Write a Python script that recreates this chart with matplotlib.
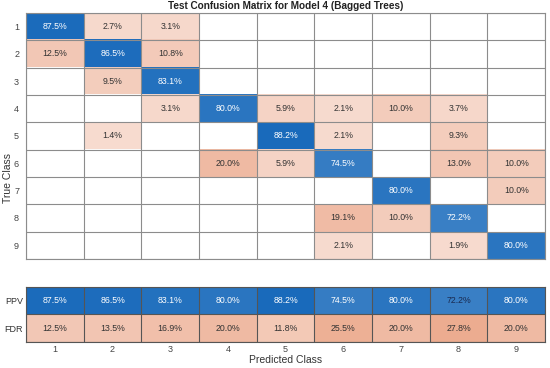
import numpy as np
import matplotlib
matplotlib.use("Agg")
import matplotlib.pyplot as plt

plt.rcParams['font.family'] = ['Liberation Sans', 'DejaVu Sans']

classes = ['1', '2', '3', '4', '5', '6', '7', '8', '9']
title = 'Test Confusion Matrix for Model 4 (Bagged Trees)'

# column-normalized percentages (rows = true class, cols = predicted class); 0 = empty
matrix = np.array([
    [87.5, 2.7, 3.1, 0, 0, 0, 0, 0, 0],
    [12.5, 86.5, 10.8, 0, 0, 0, 0, 0, 0],
    [0, 9.5, 83.1, 0, 0, 0, 0, 0, 0],
    [0, 0, 3.1, 80.0, 5.9, 2.1, 10.0, 3.7, 0],
    [0, 1.4, 0, 0, 88.2, 2.1, 0, 9.3, 0],
    [0, 0, 0, 20.0, 5.9, 74.5, 0, 13.0, 10.0],
    [0, 0, 0, 0, 0, 0, 80.0, 0, 10.0],
    [0, 0, 0, 0, 0, 19.1, 10.0, 72.2, 0],
    [0, 0, 0, 0, 0, 2.1, 0, 1.9, 80.0],
])
ppv = [87.5, 86.5, 83.1, 80.0, 88.2, 74.5, 80.0, 72.2, 80.0]
fdr = [12.5, 13.5, 16.9, 20.0, 11.8, 25.5, 20.0, 27.8, 20.0]

BLUE = np.array([0, 90, 180]) / 255.0
ORANGE = np.array([217, 83, 25]) / 255.0
WHITE = np.ones(3)


def blue_col(v):
    a = 0.894 - (87.5 - v) * 0.0079
    a = min(max(a, 0.3), 0.93)
    return WHITE * (1 - a) + BLUE * a


def orange_col(v):
    a = 0.19 + 0.0105 * v
    return WHITE * (1 - a) + ORANGE * a


n = len(classes)
rgb = np.ones((n, n, 3))
for i in range(n):
    for j in range(n):
        v = matrix[i, j]
        if v > 0:
            rgb[i, j] = blue_col(v) if i == j else orange_col(v)

fig = plt.figure(figsize=(5.5, 3.68), dpi=100)
ax = fig.add_axes([0.0473, 0.2962, 0.9437, 0.6685])
ax.imshow(rgb, aspect='auto', interpolation='nearest', extent=(-0.5, n - 0.5, n - 0.5, -0.5))
grid_c = '#8c8c8c'
for k in range(n + 1):
    ax.axhline(k - 0.5, color=grid_c, lw=0.8)
    ax.axvline(k - 0.5, color=grid_c, lw=0.8)
for i in range(n):
    for j in range(n):
        v = matrix[i, j]
        if v > 0:
            c = 'white' if i == j else '#333333'
            ax.text(j, i, f'{v:.1f}%', ha='center', va='center', fontsize=6.3, color=c)
ax.set_xlim(-0.5, n - 0.5)
ax.set_ylim(n - 0.5, -0.5)
ax.set_xticks([])
ax.set_yticks(range(n))
ax.set_yticklabels(classes, fontsize=6.5, color='#444444')
ax.tick_params(axis='y', length=0, pad=5)
for s in ax.spines.values():
    s.set_color(grid_c)
    s.set_linewidth(0.8)
ax.set_title(title, fontsize=7.2, fontweight='bold', color='#222222', pad=3)
fig.text(8 / 550, 1 - 178 / 368, 'True Class', rotation=90, ha='center', va='center',
         fontsize=7.5, color='#333333')

# summary rows
ax2 = fig.add_axes([0.0473, 0.0707, 0.9437, 0.1495])
srgb = np.ones((2, n, 3))
for j in range(n):
    srgb[0, j] = blue_col(ppv[j])
    srgb[1, j] = orange_col(fdr[j])
ax2.imshow(srgb, aspect='auto', interpolation='nearest', extent=(-0.5, n - 0.5, 1.5, -0.5))
for k in range(3):
    ax2.axhline(k - 0.5, color='#555555', lw=0.8)
for k in range(n + 1):
    ax2.axvline(k - 0.5, color='#555555', lw=0.8)
for j in range(n):
    tc = '#1a2a50' if ppv[j] < 73 else 'white'
    ax2.text(j, 0, f'{ppv[j]:.1f}%', ha='center', va='center', fontsize=6.3, color=tc)
    ax2.text(j, 1, f'{fdr[j]:.1f}%', ha='center', va='center', fontsize=6.3, color='#333333')
ax2.set_xlim(-0.5, n - 0.5)
ax2.set_ylim(1.5, -0.5)
ax2.set_xticks(range(n))
ax2.set_xticklabels(classes, fontsize=6.5, color='#444444')
ax2.set_yticks([0, 1])
ax2.set_yticklabels(['PPV', 'FDR'], fontsize=6.5, color='#333333')
ax2.tick_params(axis='both', length=0, pad=2)
for s in ax2.spines.values():
    s.set_color('#555555')
    s.set_linewidth(0.8)
fig.text(0.519, 1 - 360 / 368, 'Predicted Class', ha='center', va='center',
         fontsize=7.5, color='#333333')

fig.savefig('out.png', dpi=100)
